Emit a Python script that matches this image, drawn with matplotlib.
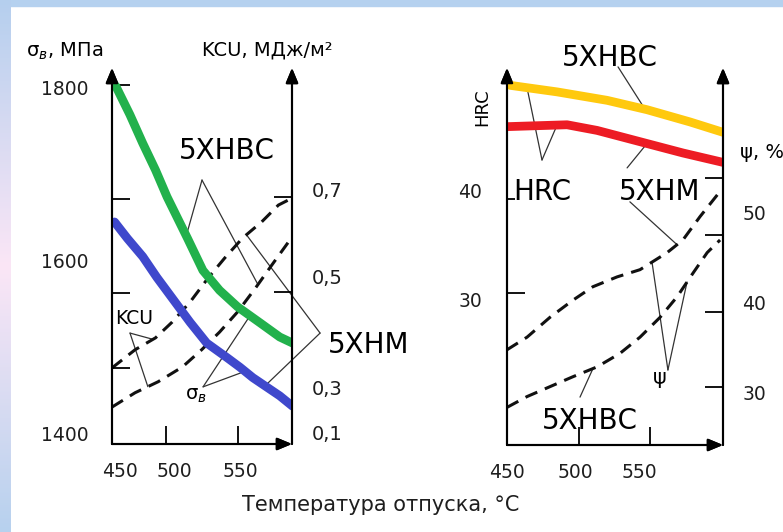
import numpy as np
import matplotlib
matplotlib.use("Agg")
import matplotlib.pyplot as plt
from matplotlib.ticker import FixedLocator, FixedFormatter
from matplotlib.colors import LinearSegmentedColormap

# ---- left panel: sigma_v (MPa) and KCU (MJ/m2) vs tempering temperature
t_sig_5xnvs = [453, 464, 474, 484, 493, 509, 521, 534, 548, 566, 581, 591]
sig_5xnvs = [1801, 1768, 1735, 1704, 1673, 1625, 1588, 1565, 1546, 1527, 1511, 1504]
t_sig_5xnm = [452, 462, 474, 485, 498, 511, 524, 540, 550, 560, 571, 581, 591]
sig_5xnm = [1644, 1625, 1604, 1580, 1554, 1528, 1504, 1487, 1476, 1464, 1453, 1443, 1431]
t_kcu_5xnm = [450, 468, 484, 497, 511, 525, 538, 552, 567, 580, 591]
kcu_5xnm = [0.342, 0.380, 0.405, 0.438, 0.480, 0.530, 0.572, 0.614, 0.648, 0.683, 0.698]
t_kcu_5xnvs = [450, 468, 486, 505, 520, 534, 548, 562, 575, 589, 591]
kcu_5xnvs = [0.260, 0.290, 0.313, 0.344, 0.380, 0.417, 0.459, 0.509, 0.558, 0.610, 0.614]

# ---- right panel: HRC and psi (%) vs tempering temperature
t_hrc_5xnvs = [452, 485, 520, 548, 578, 601]
hrc_5xnvs = [52.1, 51.4, 50.5, 49.5, 48.2, 47.1]
t_hrc_5xnm = [450, 492, 513, 543, 573, 601]
hrc_5xnm = [47.7, 47.9, 47.3, 46.1, 44.9, 43.9]
t_psi_5xnm = [450, 464, 480, 496, 510, 527, 543, 562, 573, 585, 594, 600]
psi_5xnm = [34.8, 36.2, 38.4, 40.3, 41.8, 42.9, 43.7, 45.6, 47.0, 49.6, 51.4, 52.6]
t_psi_5xnvs = [450, 464, 480, 496, 513, 529, 543, 557, 569, 580, 590, 599]
psi_5xnvs = [28.4, 29.6, 30.7, 31.8, 32.9, 34.4, 36.2, 38.4, 40.7, 43.3, 45.6, 47.0]

x_labels = ['450', '500', '550']
sig_labels = ['1800', '1600', '1400']
kcu_labels = ['0,7', '0,5', '0,3', '0,1']
hrc_labels = ['40', '30']
psi_labels = ['50', '40', '30']

W, H = 783, 532
TXT = '#1e1e1e'
fig = plt.figure(figsize=(W / 100, H / 100), dpi=100)


def box(x0, y0, x1, y1):
    return [x0 / W, 1 - y1 / H, (x1 - x0) / W, (y1 - y0) / H]


# light blue / pink slide border
fig.add_artist(plt.Rectangle((0, 1 - 6 / H), 1, 6 / H, transform=fig.transFigure,
                             color='#b5d1ef', zorder=0))
bg = fig.add_axes(box(0, 0, 11, H))
cm = LinearSegmentedColormap.from_list('edge', ['#b5cfee', '#fbe6f6', '#b7d1ee'])
bg.imshow(np.linspace(0, 1, 256).reshape(-1, 1), aspect='auto', cmap=cm)
bg.axis('off')


def frame(ax):
    for s in ax.spines.values():
        s.set_visible(False)
    style = '-|>,head_length=0.6,head_width=0.25'
    for xy, xyt in [((0, 1), (0, 0)), ((1, 1), (1, 0)), ((1, 0), (0, 0))]:
        ax.annotate('', xy=xy, xytext=xyt, xycoords='axes fraction',
                    arrowprops=dict(arrowstyle=style, lw=1.5, color='k',
                                    mutation_scale=15, shrinkA=0, shrinkB=0),
                    annotation_clip=False)


def leader(ax, vx, vy, targets):
    for tx, ty in targets:
        ax.annotate('', xy=(tx, ty), xytext=(vx, vy), textcoords='axes fraction',
                    arrowprops=dict(arrowstyle='-', lw=0.9, color='#333333',
                                    shrinkA=0, shrinkB=0),
                    annotation_clip=False, zorder=1)


def label(ax, fx, fy, s, size=20, **kw):
    ax.text(fx, fy, s, transform=ax.transAxes, fontsize=size, color='k',
            ha=kw.pop('ha', 'center'), va='center', clip_on=False, **kw)


dash = dict(color='#111111', lw=2.2, dashes=(4.2, 2.7))
thick = dict(lw=6.3, solid_capstyle='round', solid_joinstyle='round')

# ================= left panel =================
ax1 = fig.add_axes(box(112, 68, 292, 444))
ax1b = ax1.twinx()
ax1.set_zorder(ax1b.get_zorder() + 1)
ax1.patch.set_visible(False)
ax1.set_xlim(450, 590.6)
ax1.set_ylim(1387.3, 1822)
ax1b.set_ylim(0.1827, 0.970)
frame(ax1)
frame(ax1b)

ax1.plot(t_sig_5xnvs, sig_5xnvs, color='#22b14c', **thick)
ax1.plot(t_sig_5xnm, sig_5xnm, color='#3f48cc', **thick)
ax1b.plot(t_kcu_5xnm, kcu_5xnm, **dash)
ax1b.plot(t_kcu_5xnvs, kcu_5xnvs, **dash)

ax1.xaxis.set_major_locator(FixedLocator([456, 499, 550]))
ax1.xaxis.set_major_formatter(FixedFormatter(x_labels))
ax1.xaxis.set_minor_locator(FixedLocator([492.2, 548.4]))
ax1.yaxis.set_major_locator(FixedLocator([1800, 1600, 1400]))
ax1.yaxis.set_major_formatter(FixedFormatter(sig_labels))
ax1.yaxis.set_minor_locator(FixedLocator([1802, 1670.5, 1562, 1475]))
ax1b.yaxis.set_major_locator(FixedLocator([0.7147, 0.5325, 0.3, 0.2058]))
ax1b.yaxis.set_major_formatter(FixedFormatter(kcu_labels))
ax1b.yaxis.set_minor_locator(FixedLocator([0.7, 0.5, 0.3]))

ax1.tick_params(which='major', length=0, labelsize=13.5, labelcolor=TXT)
ax1.tick_params(axis='x', which='major', pad=13)
ax1.tick_params(axis='y', which='major', pad=17)
ax1.tick_params(which='minor', direction='in', length=13, width=1.3)
ax1b.tick_params(axis='y', which='major', length=0, labelsize=14, labelcolor=TXT, pad=14)
ax1b.tick_params(axis='y', which='minor', direction='in', length=13, width=1.3)

label(ax1, -0.261, 1.043, 'σ$_{в}$, МПа', size=14)
label(ax1, 0.861, 1.048, 'KCU, МДж/м²', size=14)
label(ax1, 0.639, 0.779, '5ХНВС')
label(ax1, 1.20, 0.263, '5ХНМ', ha='left')
label(ax1, 0.122, 0.335, 'KCU', size=13.5)
label(ax1, 0.467, 0.130, 'σ$_{в}$', size=14)

leader(ax1, 0.5, 0.702, [(508, np.interp(508, t_sig_5xnvs, sig_5xnvs))])
leader(ax1b, 0.5, 0.702, [(564, np.interp(564, t_kcu_5xnvs, kcu_5xnvs))])
leader(ax1b, 1.156, 0.295, [(555, np.interp(555, t_kcu_5xnm, kcu_5xnm))])
leader(ax1, 1.156, 0.295, [(569.5, np.interp(569.5, t_sig_5xnm, sig_5xnm))])
leader(ax1b, 0.1, 0.295, [(482, np.interp(482, t_kcu_5xnm, kcu_5xnm)),
                          (478, np.interp(478, t_kcu_5xnvs, kcu_5xnvs))])
leader(ax1, 0.506, 0.152, [(557.8, np.interp(557.8, t_sig_5xnvs, sig_5xnvs)),
                           (553.9, np.interp(553.9, t_sig_5xnm, sig_5xnm))])

# ================= right panel =================
ax2 = fig.add_axes(box(507, 68, 723, 445))
ax2b = ax2.twinx()
ax2.set_zorder(ax2b.get_zorder() + 1)
ax2.patch.set_visible(False)
ax2.set_xlim(450, 601.05)
ax2.set_ylim(13.83, 53.94)
ax2b.set_ylim(24.22, 66.11)
frame(ax2)
frame(ax2b)

ax2.plot(t_hrc_5xnvs, hrc_5xnvs, color='#ffc90e', **thick)
ax2.plot(t_hrc_5xnm, hrc_5xnm, color='#ed1c24', **thick)
ax2b.plot(t_psi_5xnm, psi_5xnm, **dash)
ax2b.plot(t_psi_5xnvs, psi_5xnvs, **dash)

ax2.xaxis.set_major_locator(FixedLocator([450, 497.6, 542.3]))
ax2.xaxis.set_major_formatter(FixedFormatter(x_labels))
ax2.xaxis.set_minor_locator(FixedLocator([500.3, 550]))
ax2.yaxis.set_major_locator(FixedLocator([40.96, 29.26]))
ax2.yaxis.set_major_formatter(FixedFormatter(hrc_labels))
ax2.yaxis.set_minor_locator(FixedLocator([40, 30]))
ax2b.yaxis.set_major_locator(FixedLocator([50, 40, 30]))
ax2b.yaxis.set_major_formatter(FixedFormatter(psi_labels))
ax2b.yaxis.set_minor_locator(FixedLocator([53.9, 47.6, 39.0, 30.7]))

ax2.tick_params(which='major', length=0, labelsize=13.5, labelcolor=TXT)
ax2.tick_params(axis='x', which='major', pad=13)
ax2.tick_params(axis='y', which='major', pad=18)
ax2.tick_params(which='minor', direction='in', length=13, width=1.3)
for tk, ln in zip(ax2.yaxis.get_minor_ticks(2), [6, 13]):
    tk.tick1line.set_markersize(ln)
ax2b.tick_params(axis='y', which='major', length=0, labelsize=13.5, labelcolor=TXT, pad=14)
ax2b.tick_params(axis='y', which='minor', direction='in', length=13, width=1.3)

label(ax2, -0.116, 0.897, 'HRC', size=13, rotation=90)
label(ax2, 1.079, 0.775, 'ψ, %', size=14, ha='left')
label(ax2, 0.477, 1.027, '5ХНВС')
label(ax2, 0.162, 0.671, 'HRC')
label(ax2, 0.708, 0.671, '5ХНМ')
label(ax2, 0.708, 0.178, 'ψ', size=15)
label(ax2, 0.384, 0.064, '5ХНВС')

leader(ax2, 0.514, 1.003, [(546.5, np.interp(546.5, t_hrc_5xnvs, hrc_5xnvs))])
leader(ax2, 0.162, 0.756, [(464, np.interp(464, t_hrc_5xnvs, hrc_5xnvs)),
                           (485, np.interp(485, t_hrc_5xnm, hrc_5xnm))])
leader(ax2, 0.556, 0.735, [(547.9, np.interp(547.9, t_hrc_5xnm, hrc_5xnm))])
leader(ax2b, 0.569, 0.645, [(568.9, np.interp(568.9, t_psi_5xnm, psi_5xnm))])
leader(ax2b, 0.745, 0.199, [(551.4, np.interp(551.4, t_psi_5xnm, psi_5xnm)),
                            (575.9, np.interp(575.9, t_psi_5xnvs, psi_5xnvs))])
leader(ax2b, 0.338, 0.127, [(510.1, np.interp(510.1, t_psi_5xnvs, psi_5xnvs))])

fig.text(381 / W, 1 - 505 / H, 'Температура отпуска, °С', ha='center', va='center',
         fontsize=15, color=TXT)

fig.savefig('out.png', dpi=100)
